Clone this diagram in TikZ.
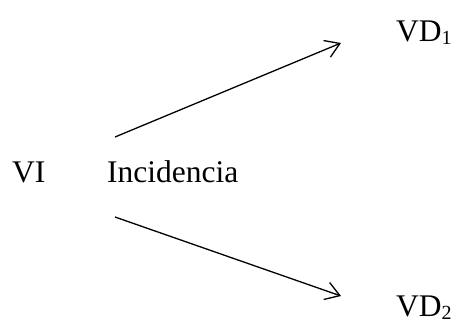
\documentclass[tikz,border=0pt]{standalone}
\usepackage{fontspec}
\setmainfont{Liberation Serif}
\usetikzlibrary{arrows.meta}
\newcommand{\mysub}[1]{\raisebox{-3pt}{\fontsize{20}{24}\selectfont #1}}
\begin{document}
\begin{tikzpicture}[x=1pt,y=-1pt,
  lbl/.style={font=\fontsize{31.5}{38}\selectfont, inner sep=0pt, anchor=base west},
  arr/.style={line width=1.3pt, -{Straight Barb[length=14pt,width=18pt,line width=1.3pt]}}]
\useasboundingbox (0,0) rectangle (452,327);
\node[lbl] (vi) at (12,182) {VI};
\node[lbl] (inc) at (107,182) {Incidencia};
\node[lbl] (vd1) at (396,41) {VD\mysub{1}};
\node[lbl] (vd2) at (396,316) {VD\mysub{2}};
\coordinate (s1) at (115,137);
\coordinate (e1) at (341,43);
\coordinate (s2) at (115,217);
\coordinate (e2) at (341,296);
\draw[arr] (s1) -- (e1);
\draw[arr] (s2) -- (e2);
\end{tikzpicture}
\end{document}
